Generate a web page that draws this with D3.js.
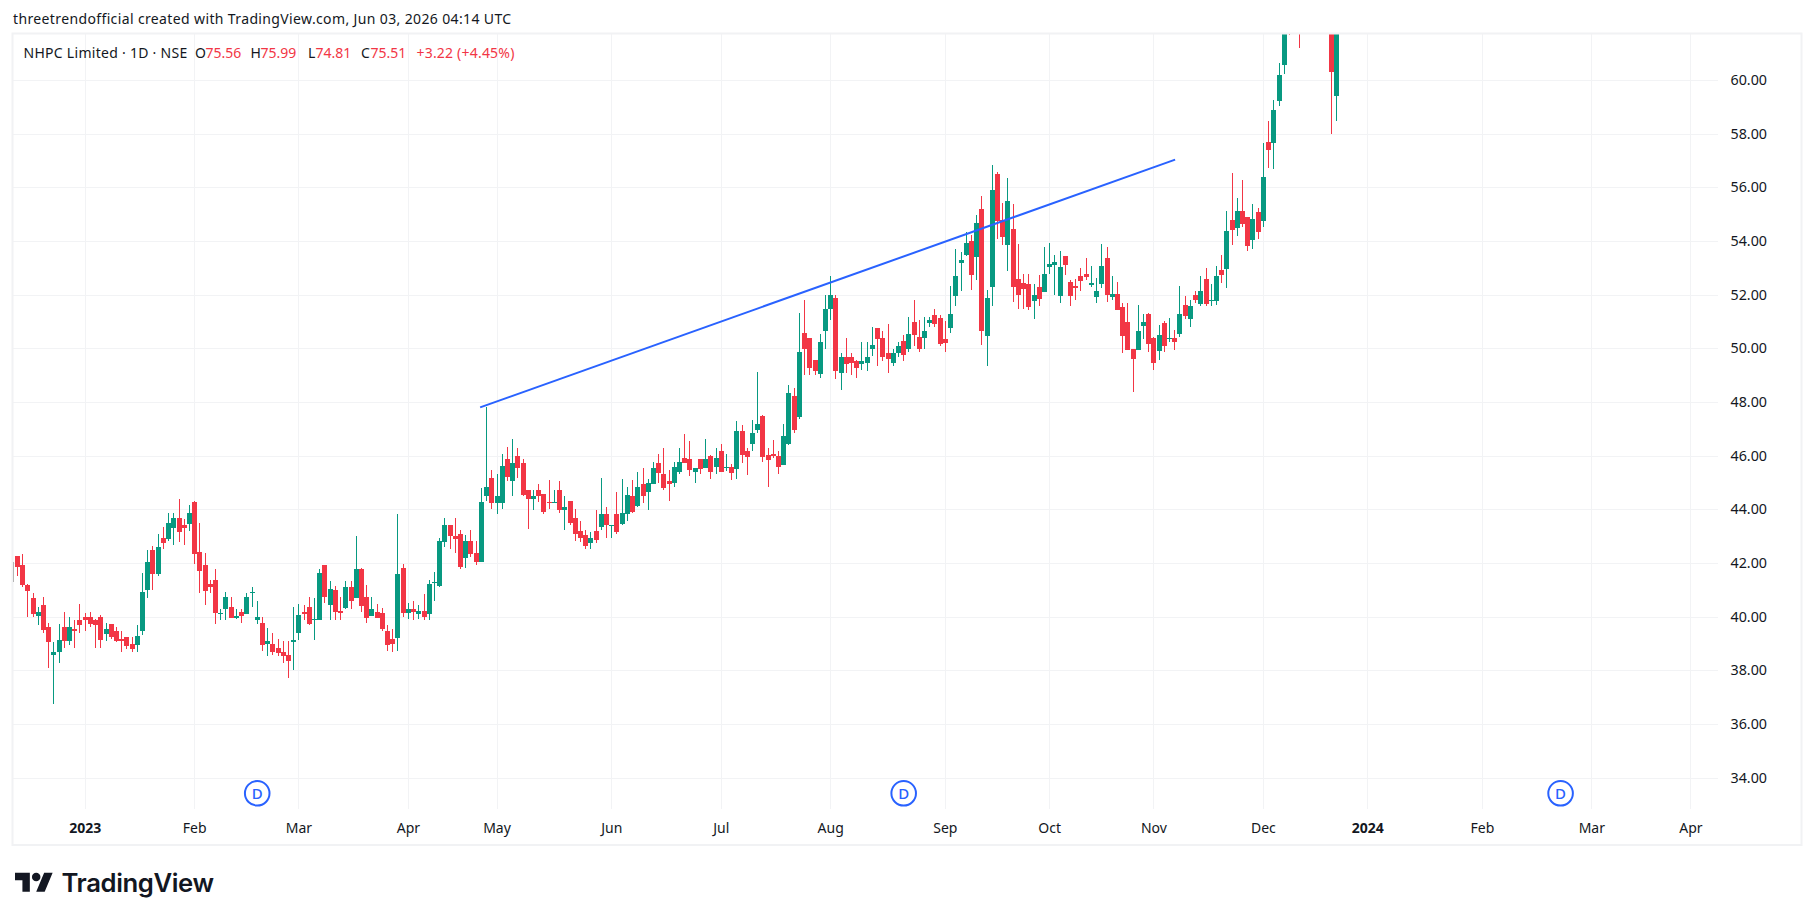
<!DOCTYPE html>
<html>
<head>
<meta charset="utf-8">
<title>NHPC Limited daily candles</title>
<script src="https://cdnjs.cloudflare.com/ajax/libs/d3/7.8.5/d3.min.js"></script>
<style>
  html, body { margin: 0; padding: 0; background: #fff; }
  svg { display: block; }
  text { font-family: "Noto Sans", sans-serif; }
</style>
</head>
<body>
<svg id="chart" width="1814" height="920"></svg>
<script>
// Daily OHLC sessions, oldest first. Sessions above the pane top are still listed.
const opens = [
  42.30,41.96,41.22,40.73,40.06,40.47,39.65,38.61,38.72,39.65,
  39.13,39.58,39.88,40.02,40.02,39.91,40.02,39.39,39.76,39.47,
  39.20,39.28,39.02,38.98,39.47,41.03,42.52,41.63,42.97,42.93,
  43.34,43.71,43.45,43.49,44.31,42.45,41.93,41.25,41.40,40.14,
  40.29,40.40,39.99,40.21,40.14,40.92,39.88,39.80,39.02,39.02,
  38.87,38.72,38.61,39.09,39.43,40.21,40.40,39.91,39.88,41.93,
  40.47,41.03,40.25,40.36,41.11,40.73,41.81,40.77,40.06,40.21,
  40.17,39.50,39.20,39.24,41.85,40.17,40.32,40.14,40.25,40.14,
  41.29,41.18,42.82,43.42,43.01,43.12,42.19,42.86,42.41,42.07,
  44.53,45.20,44.24,44.24,45.88,45.09,46.02,45.73,44.76,44.42,
  44.76,44.61,44.31,44.24,44.76,43.98,44.35,43.71,43.23,43.08,
  42.78,43.23,43.38,43.83,43.42,43.86,43.49,43.83,44.53,44.16,
  44.98,44.65,44.98,45.73,45.35,45.06,45.02,45.43,45.95,45.91,
  45.43,45.88,45.58,46.01,45.60,46.20,45.57,45.60,45.53,46.94,
  46.20,46.46,46.98,47.50,46.05,46.09,46.01,45.68,46.46,48.25,
  47.48,50.61,50.42,49.57,49.08,50.68,51.47,51.91,49.12,49.71,
  49.68,49.53,49.42,49.49,49.98,50.76,50.39,49.83,49.49,49.83,
  50.31,49.98,51.02,50.46,50.39,50.98,51.27,51.16,50.37,50.78,
  51.98,53.20,53.50,54.02,53.43,55.22,50.48,52.31,56.52,54.81,
  53.88,54.47,52.61,52.46,52.42,51.79,52.31,52.12,53.06,53.13,
  51.98,53.47,52.50,52.35,52.72,52.80,52.39,51.94,52.42,53.39,
  51.94,52.05,51.57,51.01,50.00,49.96,50.86,51.30,50.41,49.93,
  50.97,50.37,50.41,50.56,51.64,51.12,52.01,51.68,52.61,51.79,
  51.79,52.94,52.97,54.80,54.50,55.13,54.91,54.05,55.09,54.76,
  57.70,57.66,59.23,60.57,63.80,64.20,63.90,63.20,64.80,65.60,
  65.20,64.50,65.50,59.42
];
const highs = [
  42.30,42.37,41.25,40.92,40.40,40.77,39.80,39.06,39.76,40.21,
  40.02,39.88,40.51,40.17,40.21,39.95,40.10,39.80,39.76,39.65,
  39.47,39.28,39.28,39.73,41.66,42.52,42.67,43.12,43.38,43.90,
  43.90,44.42,43.68,44.20,44.35,43.53,42.41,41.40,41.81,40.32,
  40.96,40.77,40.32,40.32,40.92,41.11,40.62,40.02,39.61,39.43,
  39.20,39.13,39.13,40.40,40.51,40.47,40.77,40.73,41.81,41.93,
  41.37,41.18,40.77,41.37,41.37,43.01,41.85,41.22,40.77,40.51,
  40.36,39.73,39.58,43.83,42.00,40.55,40.62,40.47,40.88,41.40,
  41.70,42.97,43.71,43.45,43.71,43.27,43.08,43.27,42.86,44.83,
  47.85,45.47,45.32,46.10,46.36,46.66,46.29,45.91,44.76,44.76,
  44.98,44.61,45.13,44.76,45.06,44.53,44.35,44.05,43.60,43.27,
  43.16,43.98,45.20,44.12,43.45,44.68,45.17,44.87,45.13,45.43,
  45.58,45.17,45.80,46.10,46.29,45.47,45.80,46.32,46.81,46.58,
  45.58,45.91,46.66,46.05,46.31,46.46,46.09,45.71,47.32,47.17,
  46.31,47.35,49.14,47.54,46.31,46.61,46.20,47.20,48.66,48.55,
  51.32,51.84,50.42,49.60,50.57,52.02,52.73,51.99,49.86,50.42,
  49.83,49.57,50.27,50.27,50.83,50.76,50.68,50.91,49.98,50.27,
  50.53,51.17,51.84,51.09,51.20,51.20,51.49,51.27,51.04,52.35,
  53.73,53.61,54.36,54.25,54.99,55.70,52.20,56.86,56.60,55.44,
  56.37,55.40,53.91,52.80,52.80,52.42,52.76,53.80,53.95,53.50,
  53.65,53.47,52.57,52.61,53.02,53.39,53.09,52.65,53.91,53.80,
  52.72,52.50,51.71,51.71,50.00,51.64,51.30,51.34,50.45,50.89,
  51.04,51.16,50.71,52.35,51.98,51.83,52.16,52.72,53.02,52.42,
  53.09,53.50,55.13,56.55,55.61,56.29,54.91,55.39,55.24,57.66,
  58.48,59.27,60.65,63.20,64.20,65.00,64.60,65.40,66.20,66.60,
  66.00,65.90,66.50,63.50
];
const lows = [
  41.52,41.11,40.02,40.02,39.73,39.43,38.12,36.75,38.31,38.87,
  38.98,38.87,39.43,39.50,39.65,38.87,38.87,39.13,39.20,39.06,
  38.72,38.80,38.72,38.72,39.35,40.73,41.03,41.52,42.56,42.86,
  42.71,42.82,42.71,43.23,42.00,40.92,40.47,40.92,39.76,39.88,
  39.88,39.99,39.95,39.80,40.14,40.40,39.76,38.76,38.57,38.61,
  38.57,38.31,37.75,38.05,39.17,39.88,39.73,39.17,39.88,40.55,
  39.91,39.91,39.91,40.32,40.32,40.73,40.21,39.80,40.06,39.99,
  39.50,38.76,38.72,38.76,40.02,39.95,39.91,39.95,39.91,39.91,
  40.62,41.11,42.63,42.56,42.41,41.81,41.85,42.26,41.93,42.05,
  44.35,44.05,43.86,44.05,45.06,44.53,45.20,44.53,43.30,43.98,
  44.31,43.83,44.05,44.24,43.90,43.27,43.45,42.86,42.82,42.56,
  42.56,42.78,43.27,42.97,42.97,43.12,43.45,43.60,43.90,44.12,
  44.27,43.98,44.98,45.02,44.76,44.35,44.87,45.35,45.76,45.28,
  45.02,45.32,45.58,45.16,45.34,45.42,45.45,45.12,45.16,45.75,
  45.30,46.20,46.87,45.79,44.86,45.94,45.34,45.68,46.42,46.87,
  47.40,49.01,49.01,49.01,48.93,50.01,51.06,48.86,48.48,49.12,
  49.01,48.93,49.23,49.16,49.75,49.38,49.53,49.12,49.38,49.71,
  49.53,49.90,50.12,49.90,50.01,50.83,50.82,50.11,49.89,50.60,
  51.60,52.16,53.47,52.20,52.57,50.15,49.37,51.60,54.10,53.88,
  52.91,51.75,51.49,51.49,51.45,51.12,51.60,52.12,52.80,52.01,
  51.71,52.76,51.60,51.83,52.16,52.57,52.31,51.71,52.27,51.75,
  51.83,51.45,49.85,49.96,48.40,49.96,50.37,49.89,49.22,49.59,
  49.89,50.26,49.96,50.45,51.12,50.82,51.71,51.60,51.60,51.60,
  51.64,52.46,52.26,53.86,54.20,54.53,53.64,53.71,54.09,54.53,
  56.73,56.70,59.04,60.24,61.70,62.90,61.20,62.60,64.10,64.90,
  63.80,62.80,58.00,58.48
];
const closes = [
  41.89,41.22,40.99,40.14,40.21,39.54,39.09,38.72,39.17,39.13,
  39.65,39.47,39.73,39.91,39.76,39.73,39.17,39.58,39.28,39.13,
  39.13,38.94,38.83,39.32,40.96,42.07,41.63,42.63,42.78,43.53,
  43.71,43.19,43.34,43.90,42.37,41.74,40.99,41.14,40.17,40.17,
  40.77,39.99,40.06,40.06,40.77,40.96,40.02,38.98,39.13,38.72,
  38.68,38.57,38.38,39.17,40.10,40.14,39.76,39.95,41.66,40.77,
  41.07,40.21,40.17,41.11,40.62,41.81,40.43,39.99,40.32,39.99,
  39.58,38.98,39.02,41.63,40.17,40.32,40.21,40.25,40.02,41.25,
  41.33,42.86,43.45,43.04,42.93,41.89,42.86,42.37,42.07,44.31,
  44.87,44.24,44.53,45.65,45.24,45.73,45.58,44.57,44.42,44.53,
  44.53,43.94,44.24,44.31,44.01,44.12,43.53,43.12,42.97,42.67,
  42.97,42.89,43.83,43.42,43.45,43.19,43.90,44.57,43.94,44.87,
  44.50,45.02,45.58,45.39,44.83,44.98,45.61,45.80,45.76,45.47,
  45.58,45.54,45.91,45.42,45.94,45.42,45.60,45.38,46.94,46.05,
  45.98,46.87,47.20,45.98,45.86,46.01,45.60,46.76,48.36,46.98,
  49.90,49.98,49.27,49.19,50.27,51.50,51.99,49.19,49.68,49.42,
  49.49,49.27,49.53,49.71,50.16,50.35,49.71,49.64,49.86,50.12,
  49.79,50.57,50.50,49.98,50.68,51.06,50.93,50.19,50.22,51.30,
  52.72,53.32,53.95,52.76,54.70,50.67,51.90,55.93,54.77,54.17,
  55.52,52.31,52.01,52.24,51.57,52.01,51.86,52.80,53.17,53.24,
  53.06,53.13,51.98,52.27,52.53,52.68,52.46,52.16,53.09,52.01,
  52.05,51.45,50.48,49.96,49.63,50.67,51.01,50.19,49.48,50.52,
  50.11,50.41,50.26,51.30,51.23,51.60,51.83,52.16,51.68,51.83,
  52.72,52.76,54.39,54.42,55.13,54.65,53.83,54.83,54.35,56.40,
  57.40,58.89,60.20,62.60,62.60,63.60,62.90,64.80,65.60,65.20,
  64.50,65.40,60.31,62.90
];

// Axis ticks: price levels and the session number each time label sits on.
const priceTicks = [34,36,38,40,42,44,46,48,50,52,54,56,58,60];
const timeTickLabels = ["2023","Feb","Mar","Apr","May","Jun","Jul","Aug","Sep","Oct","Nov","Dec","2024","Feb","Mar","Apr"];
const timeTickBars   = [14,35,55,76,93,115,136,157,179,199,219,240,260,282,303,322];
const yearLabels = ["2023","2024"];

// Dividend markers, by session number.
const dividendBars = [47,171,297];

// Trend line anchors as [session, price].
const trendStart = [89.76,47.82];
const trendEnd = [223.07,57.05];

// Header texts.
const captionText = "threetrendofficial created with TradingView.com, Jun 03, 2026 04:14 UTC";
const symbolText = "NHPC Limited · 1D · NSE";
const quoteLabels = ["O","H","L","C"];
const quoteValues = ["75.56","75.99","74.81","75.51"];
const changeText = "+3.22 (+4.45%)";

const UP = "#089981", DOWN = "#f23645", INK = "#131722", GRID = "#f2f3f5", BLUE = "#2962ff";

const svg = d3.select("#chart");
const pane = { left: 13, right: 1801, top: 34, bottom: 844.5, plotRight: 1718, plotBottom: 809 };

const x = d3.scaleLinear().domain([1, 254]).range([17.4, 1336.4]);
const y = d3.scaleLinear().domain([34, 60]).range([778.3, 80.5]);
const snap = v => Math.floor(v) + 0.5;

svg.append("defs").append("clipPath").attr("id", "plotClip").append("rect")
  .attr("x", pane.left).attr("y", pane.top)
  .attr("width", pane.plotRight - pane.left).attr("height", pane.plotBottom - pane.top);

// Grid
const grid = svg.append("g").attr("stroke", GRID).attr("stroke-width", 1).attr("shape-rendering", "crispEdges");
grid.selectAll("line.h").data(priceTicks).join("line").attr("class", "h")
  .attr("x1", pane.left).attr("x2", pane.plotRight)
  .attr("y1", d => snap(y(d))).attr("y2", d => snap(y(d)));
grid.selectAll("line.v").data(timeTickBars).join("line").attr("class", "v")
  .attr("y1", pane.top).attr("y2", pane.plotBottom)
  .attr("x1", d => snap(x(d))).attr("x2", d => snap(x(d)));

// Candles
const plot = svg.append("g").attr("clip-path", "url(#plotClip)");
const sessions = d3.range(opens.length).map(i => ({
  bar: i + 1, o: opens[i], h: highs[i], l: lows[i], c: closes[i]
}));
const candle = plot.selectAll("g.candle").data(sessions).join("g")
  .attr("class", "candle")
  .attr("shape-rendering", "crispEdges")
  .attr("fill", d => d.c >= d.o ? UP : DOWN);
candle.append("rect")
  .attr("x", d => Math.floor(x(d.bar)))
  .attr("width", 1)
  .attr("y", d => Math.round(y(d.h)))
  .attr("height", d => Math.max(1, Math.round(y(d.l)) - Math.round(y(d.h))));
candle.append("rect")
  .attr("x", d => Math.floor(x(d.bar)) - 2)
  .attr("width", 5)
  .attr("y", d => Math.round(y(Math.max(d.o, d.c))))
  .attr("height", d => Math.max(1, Math.round(y(Math.min(d.o, d.c))) - Math.round(y(Math.max(d.o, d.c)))));

// Trend line
plot.append("line")
  .attr("x1", x(trendStart[0])).attr("y1", y(trendStart[1]))
  .attr("x2", x(trendEnd[0])).attr("y2", y(trendEnd[1]))
  .attr("stroke", BLUE).attr("stroke-width", 2);

// Pane frame
svg.append("rect")
  .attr("x", pane.left - 0.5).attr("y", pane.top - 0.5)
  .attr("width", pane.right - pane.left + 1).attr("height", pane.bottom - pane.top + 1)
  .attr("fill", "none").attr("stroke", "#f1f2f4").attr("stroke-width", 2);
svg.append("line")
  .attr("x1", 13.5).attr("x2", 13.5).attr("y1", 562).attr("y2", 582)
  .attr("stroke", "#b4b4b4").attr("stroke-width", 1);

// Price axis
svg.append("g").selectAll("text").data(priceTicks).join("text")
  .attr("x", 1730.5).attr("y", d => y(d) + 4.5)
  .attr("fill", INK).attr("font-size", 14.3)
  .text(d => d.toFixed(2));

// Time axis
svg.append("g").selectAll("text").data(timeTickLabels).join("text")
  .attr("x", (d, i) => x(timeTickBars[i])).attr("y", 832.5)
  .attr("text-anchor", "middle").attr("fill", INK).attr("font-size", 14)
  .attr("font-weight", d => yearLabels.includes(d) ? 700 : 400)
  .text(d => d);

// Dividend markers
const dividend = svg.append("g").selectAll("g").data(dividendBars).join("g")
  .attr("transform", d => `translate(${x(d)},793.3)`);
dividend.append("circle").attr("r", 12.3).attr("fill", "#fff").attr("stroke", BLUE).attr("stroke-width", 2);
dividend.append("text").attr("text-anchor", "middle").attr("y", 5.5)
  .attr("fill", BLUE).attr("font-size", 15).attr("font-weight", 500).text("D");

// Caption and legend
svg.append("text").attr("x", 13).attr("y", 24).attr("fill", INK).attr("font-size", 14).attr("letter-spacing", 0.37).text(captionText);
svg.append("text").attr("x", 23.5).attr("y", 58).attr("fill", INK).attr("font-size", 14).attr("letter-spacing", 0.28).text(symbolText);
const quoteLabelX = [195, 250.5, 308, 361];
const quoteValueX = [205.5, 260.5, 315.5, 370.5];
svg.append("g").selectAll("text").data(quoteLabels).join("text")
  .attr("x", (d, i) => quoteLabelX[i]).attr("y", 58).attr("fill", INK).attr("font-size", 14).text(d => d);
svg.append("g").selectAll("text").data(quoteValues).join("text")
  .attr("x", (d, i) => quoteValueX[i]).attr("y", 58).attr("fill", DOWN).attr("font-size", 14).text(d => d);
svg.append("text").attr("x", 416.5).attr("y", 58).attr("fill", DOWN).attr("font-size", 14).attr("letter-spacing", 0.2).text(changeText);

// Wordmark
const logo = svg.append("g").attr("fill", INK);
const mark = logo.append("g").attr("transform", "translate(15,868.5) scale(1.06)");
mark.append("path").attr("d", "M14 22H7V11H0V4h14v18zM28 22h-8l7.5-18h8L28 22z");
mark.append("circle").attr("cx", 20).attr("cy", 8).attr("r", 4);
logo.append("text").attr("x", 61.5).attr("y", 891.5)
  .style("font-family", "Inter, sans-serif").attr("font-weight", 600).attr("font-size", 25.7).attr("letter-spacing", -0.4)
  .text("TradingView");
</script>
</body>
</html>
